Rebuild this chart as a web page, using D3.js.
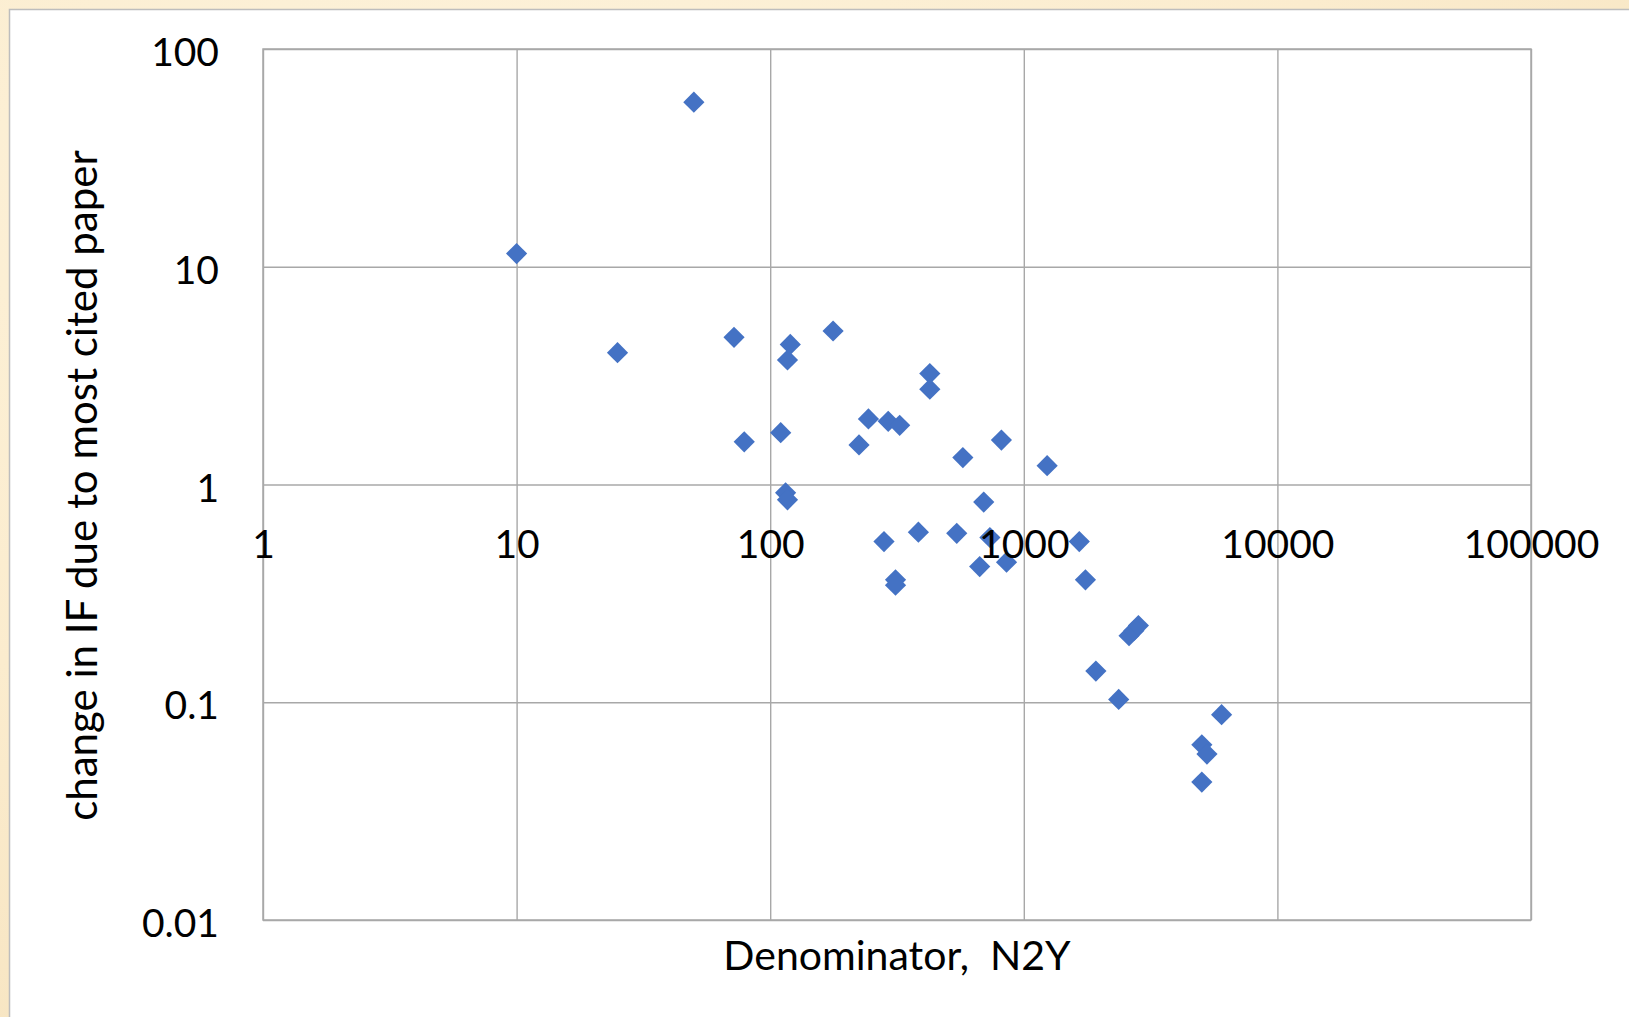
<!DOCTYPE html>
<html>
<head>
<meta charset="utf-8">
<script src="https://cdn.jsdelivr.net/npm/d3@7"></script>
<style>
  html, body { margin: 0; padding: 0; }
  body { width: 1629px; height: 1017px; overflow: hidden; background: #fbeed3; }
  svg { display: block; }
  text { font-family: Lato, "Open Sans", sans-serif; fill: #000; }
</style>
</head>
<body>
<svg id="chart" width="1629" height="1017"></svg>
<script>
// ---- data ----
const denominatorN2Y = [50, 10, 25, 72, 79, 120, 117, 110, 115, 117,
  177, 244, 224, 292, 324, 281, 312, 312, 426, 426,
  384, 544, 575, 695, 670, 735, 816, 855, 1236, 1655,
  1750, 1924, 2367, 2600, 2715, 2831, 5035, 5275, 5035, 6025];
const changeInIF = [57, 11.5, 4.03, 4.74, 1.57, 4.4, 3.73, 1.73, 0.916, 0.85,
  5.07, 2.0, 1.52, 1.95, 1.87, 0.547, 0.365, 0.345, 3.23, 2.74,
  0.604, 0.597, 1.33, 0.83, 0.42, 0.571, 1.6, 0.44, 1.22, 0.547,
  0.365, 0.139, 0.103, 0.202, 0.213, 0.225, 0.0638, 0.0578, 0.043, 0.0877];
const xTicks = [1, 10, 100, 1000, 10000, 100000];
const yTicks = [0.01, 0.1, 1, 10, 100];
const xTitle = "Denominator,  N2Y";
const yTitle = "change in IF due to most cited paper";

const points = denominatorN2Y.map((x, i) => ({ x, y: changeInIF[i] }));

// ---- layout ----
const W = 1629, H = 1017;
const plot = { left: 263, top: 49, right: 1531, bottom: 920 };
const svg = d3.select("#chart");

// background texture
const defs = svg.append("defs");
const rg = defs.append("radialGradient").attr("id", "bg").attr("cx", "30%").attr("cy", "20%").attr("r", "90%");
rg.append("stop").attr("offset", "0%").attr("stop-color", "#fdf3dc");
rg.append("stop").attr("offset", "60%").attr("stop-color", "#fbecce");
rg.append("stop").attr("offset", "100%").attr("stop-color", "#f7e5c2");
svg.append("rect").attr("width", W).attr("height", H).attr("fill", "url(#bg)");

// chart frame (white area)
svg.append("rect")
  .attr("x", 9.5).attr("y", 9.5).attr("width", W + 20).attr("height", H + 20)
  .attr("fill", "#ffffff").attr("stroke", "#bdbdbd").attr("stroke-width", 1.5);

const x = d3.scaleLog().domain([1, 100000]).range([plot.left, plot.right]);
const y = d3.scaleLog().domain([0.01, 100]).range([plot.bottom, plot.top]);

const gridColor = "#a8a8a8";

// gridlines via axes
const gx = svg.append("g").attr("transform", `translate(0,${plot.bottom})`)
  .call(d3.axisBottom(x).tickValues(xTicks).tickSize(-(plot.bottom - plot.top)).tickFormat(""));
gx.select(".domain").remove();
gx.selectAll("line").attr("stroke", gridColor).attr("stroke-width", 1.4);

const gy = svg.append("g").attr("transform", `translate(${plot.left},0)`)
  .call(d3.axisLeft(y).tickValues(yTicks).tickSize(-(plot.right - plot.left)).tickFormat(""));
gy.select(".domain").remove();
gy.selectAll("line").attr("stroke", gridColor).attr("stroke-width", 1.4);

// plot border
svg.append("rect")
  .attr("x", plot.left).attr("y", plot.top)
  .attr("width", plot.right - plot.left).attr("height", plot.bottom - plot.top)
  .attr("fill", "none").attr("stroke", gridColor).attr("stroke-width", 1.5);

// points (diamonds)
const diamond = d3.symbol().type(d3.symbolSquare).size(225);
svg.append("g").selectAll("path").data(points).join("path")
  .attr("d", diamond)
  .attr("transform", d => `translate(${x(d.x)},${y(d.y)}) rotate(45)`)
  .attr("fill", "#4472c4");

// tick labels
const fmt = d => String(d);
const lx = svg.append("g").attr("transform", `translate(0,544)`)
  .call(d3.axisBottom(x).tickValues(xTicks).tickSize(0).tickPadding(0).tickFormat(fmt));
lx.select(".domain").remove();
lx.selectAll("text").attr("dy", "0.35em").attr("font-size", 39)
  .style("font-family", "Lato, 'Open Sans', sans-serif").attr("fill", "#000");

const ly = svg.append("g").attr("transform", `translate(219,3)`)
  .call(d3.axisLeft(y).tickValues(yTicks).tickSize(0).tickPadding(0).tickFormat(fmt));
ly.select(".domain").remove();
ly.selectAll("text").attr("dy", "0.35em").attr("font-size", 39)
  .style("font-family", "Lato, 'Open Sans', sans-serif").attr("fill", "#000");

// axis titles
svg.append("text")
  .attr("x", (plot.left + plot.right) / 2).attr("y", 956)
  .attr("dy", "0.35em").attr("text-anchor", "middle")
  .style("white-space", "pre")
  .attr("font-size", 41).text(xTitle);

svg.append("text")
  .attr("transform", `translate(82,${(plot.top + plot.bottom) / 2 + 1}) rotate(-90)`)
  .attr("dy", "0.35em").attr("text-anchor", "middle")
  .attr("font-size", 42).text(yTitle);
</script>
</body>
</html>
